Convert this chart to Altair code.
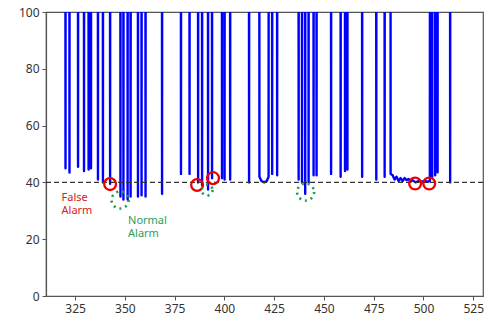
import altair as alt
import pandas as pd

# --- data ---
# narrow dips of the blue signal (x position, minimum value); the signal is far above 100 elsewhere
dip_x = [320.2, 322.2, 326.5, 329.5, 331.8, 333.0, 336.5, 339.0, 342.6,
         347.8, 349.3, 351.4, 352.9, 356.6, 358.4, 360.4, 368.7,
         378.2, 382.5, 386.8, 388.8, 391.8, 393.8, 398.8, 400.1, 402.9, 412.4,
         424.0, 426.5,
         437.3, 439.0, 440.6, 442.3, 444.8, 446.3, 453.6, 458.4, 460.6, 461.8,
         469.2, 476.3, 480.5,
         504.4, 505.9, 507.1, 513.4]
dip_min = [45, 43.5, 45.5, 44, 44.5, 45, 41, 40, 39.5,
           35, 34, 34, 35, 35, 35.5, 35, 36,
           43, 43, 40, 39, 37.5, 41.5, 41.5, 41, 41, 40,
           43, 42.5,
           41, 40, 36, 40, 42.5, 42.5, 43, 42, 44, 44.5,
           42, 41, 42,
           42, 42.5, 43.6, 40]

# wider U-shaped dip near 420
u_x = [417.6, 418.6, 420.0, 421.3, 422.2]
u_y = [42.0, 40.5, 40.0, 40.5, 42.0]

# long low stretch near 485-503
wave_x = [483.5, 484.5, 485.5, 486.5, 487.5, 488.5, 489.5, 490.5, 491.5, 492.5,
          493.5, 494.5, 496.0, 497.5, 499.0, 500.5, 502.0, 503.2]
wave_y = [43.0, 42.5, 41.0, 42.0, 40.5, 41.5, 40.5, 41.5, 40.8, 41.2,
          40.2, 40.8, 40.0, 40.5, 40.2, 40.6, 40.2, 40.5]

threshold = 40

red_x = [342.6, 386.3, 394.3, 495.8, 502.9]
red_y = [39.4, 39.1, 41.5, 39.6, 39.6]

green_x = [347.6, 391.3, 440.8]
green_y = [33.8, 37.3, 36.6]

false_text = "False\nAlarm"
false_x = 318.2
false_y = 33.6
normal_text = "Normal\nAlarm"
normal_x = 351.6
normal_y = 25.4

x_ticks = [325, 350, 375, 400, 425, 450, 475, 500, 525]
y_ticks = [0, 20, 40, 60, 80, 100]

# --- build line table ---
TOP = 1000.0
HW = 0.5
segments = [[(x, m)] for x, m in zip(dip_x, dip_min)]
segments.append(list(zip(u_x, u_y)))
segments.append(list(zip(wave_x, wave_y)))
segments.sort(key=lambda s: s[0][0])
rows = [(311.0, TOP)]
for seg in segments:
    rows.append((seg[0][0] - HW, TOP))
    rows.extend(seg)
    rows.append((seg[-1][0] + HW, TOP))
rows.append((529.0, TOP))
line_df = pd.DataFrame({"x": [r[0] for r in rows], "y": [r[1] for r in rows],
                        "i": list(range(len(rows)))})

xs = alt.Scale(domain=[310.4, 529.9], nice=False, zero=False)
ys = alt.Scale(domain=[0, 100], nice=False)

X = alt.X("x:Q", scale=xs, axis=alt.Axis(values=x_ticks, title=None, grid=False))
Y = alt.Y("y:Q", scale=ys, axis=alt.Axis(values=y_ticks, title=None, grid=False))

line = alt.Chart(line_df).mark_line(color="#0000ff", strokeWidth=2.4, clip=True,
                                    strokeJoin="round").encode(
    x=X, y=Y, order=alt.Order("i:Q"))

thr = alt.Chart(pd.DataFrame({"y": [threshold]})).mark_rule(
    color="#333333", strokeDash=[5, 3], strokeWidth=1.2).encode(y=alt.Y("y:Q", scale=ys))

red_df = pd.DataFrame({"x": red_x, "y": red_y})
red = alt.Chart(red_df).mark_point(shape="circle", filled=False, color="#ee0000",
                                   strokeWidth=2.3, size=140, opacity=1).encode(x=X, y=Y)

green_df = pd.DataFrame({"x": green_x, "y": green_y, "k": ["big", "small", "big"]})
green_big = alt.Chart(green_df).transform_filter("datum.k == 'big'").mark_point(
    shape="circle", filled=False, color="#1a9e50", strokeWidth=2.6, size=290,
    strokeDash=[2, 4], opacity=1).encode(x=X, y=Y)
green_small = alt.Chart(green_df).transform_filter("datum.k == 'small'").mark_point(
    shape="circle", filled=False, color="#1a9e50", strokeWidth=2.6, size=120,
    strokeDash=[2, 4], opacity=1).encode(x=X, y=Y)

false_df = pd.DataFrame({"x": [false_x], "y": [false_y], "t": [false_text]})
false_txt = alt.Chart(false_df).mark_text(align="left", baseline="alphabetic",
                                          color="#d42020", fontSize=11, font="Noto Sans",
                                          lineBreak="\n", lineHeight=13.5).encode(
    x=X, y=Y, text="t:N")
normal_df = pd.DataFrame({"x": [normal_x], "y": [normal_y], "t": [normal_text]})
normal_txt = alt.Chart(normal_df).mark_text(align="left", baseline="alphabetic",
                                            color="#2a9d5c", fontSize=11, font="Noto Sans",
                                            lineBreak="\n", lineHeight=13.5).encode(
    x=X, y=Y, text="t:N")

chart = alt.layer(line, thr, red, green_big, green_small, false_txt, normal_txt).properties(
    width=437, height=284,
    padding={"left": 46, "top": 12, "right": 8, "bottom": 30},
    autosize=alt.AutoSizeParams(type="none"),
).configure_view(stroke="#555555", strokeWidth=1.2).configure_axis(
    labelFont="Noto Sans", labelFontSize=12, labelColor="#333333",
    domainColor="#555555", tickColor="#555555", tickSize=4, labelPadding=3,
    domainWidth=1.2,
)

chart.save("out.html", embed_options={"renderer": "svg", "actions": False})
